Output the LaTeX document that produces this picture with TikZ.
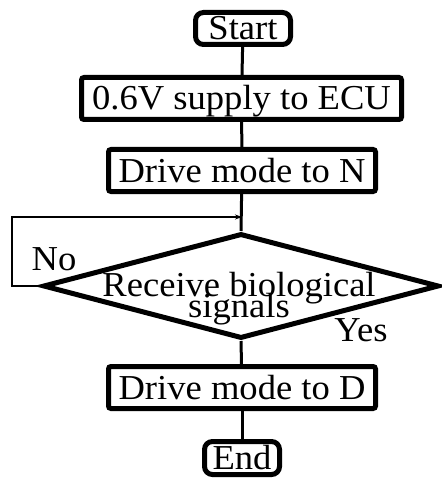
\documentclass[tikz,border=0pt]{standalone}
\usepackage{fontspec}
\setmainfont[FakeStretch=1.045]{Liberation Serif}
\usetikzlibrary{shapes.geometric,arrows.meta}

\begin{document}
\begin{tikzpicture}[x=1pt,y=-1pt,
		box/.style={draw,line width=5pt,rounded corners=2.5pt,inner sep=0pt,text height=23pt,text depth=0pt,font=\fontsize{35}{40}\selectfont},
		term/.style={box,rounded corners=8pt},
		link/.style={line width=3pt},
		back/.style={line width=1.6pt,-{Stealth[length=7pt,width=5pt]}}]
			\useasboundingbox (0,0) rectangle (441,481);
			\node[term,minimum width=95pt,minimum height=32pt] (start) at (243,28.5) {Start};
			\node[box,minimum width=320pt,minimum height=42pt] (supply) at (241.5,98.5) {0.6V supply to ECU};
			\node[box,minimum width=267pt,minimum height=42pt] (modeN) at (242,170.5) {Drive mode to N};
			\node[draw,diamond,line width=5pt,inner sep=0pt,minimum width=396pt,minimum height=105pt] (check) at (241,286) {};
			\node[align=center,font=\fontsize{35}{40}\selectfont] (ask) at (239,298.5) {Receive biological\\[-19pt]signals};
			\node[box,minimum width=267pt,minimum height=42pt] (modeD) at (242,387.5) {Drive mode to D};
			\node[term,minimum width=75pt,minimum height=33pt] (end) at (242,458) {End};
			\node[anchor=base,font=\fontsize{35}{40}\selectfont] (no) at (54,270) {No};
			\node[anchor=base,font=\fontsize{35}{40}\selectfont] (yes) at (361,341) {Yes};
			% main line
			\draw[link] (start) -- (supply);
			\draw[link] (supply) -- (modeN);
			\draw[link] (modeN) -- (check.north);
			\draw[link] (check.south) -- (modeD);
			\draw[link] (modeD) -- (end);
			% loop back when nothing arrives
			\coordinate (turn) at (12,217);
			\draw[back] (check.west) -| (turn) -- (turn -| modeN.south);
		\end{tikzpicture}
\end{document}
